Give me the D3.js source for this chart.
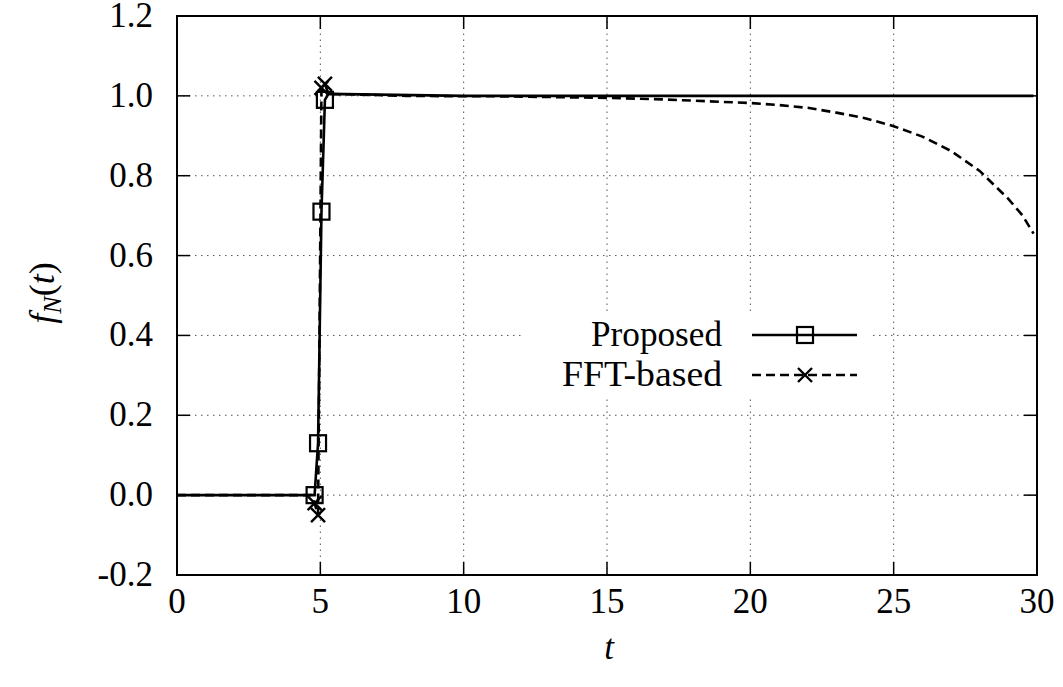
<!DOCTYPE html>
<html>
<head>
<meta charset="utf-8">
<script src="https://cdn.jsdelivr.net/npm/d3@7"></script>
<style>
  html, body { margin: 0; padding: 0; background: #fff; }
  svg { display: block; }
  text { font-family: "Liberation Serif", "DejaVu Serif", serif; fill: #000; }
</style>
</head>
<body>
<svg id="chart" width="1063" height="687"></svg>
<script>
// Step response: proposed method vs FFT-based inversion
const proposedT = [0, 4.80, 4.92, 5.04, 5.16, 5.28, 10, 20, 29.88];
const proposedV = [0, 0.00, 0.13, 0.71, 0.99, 1.005, 1.0, 1.0, 1.0];
const proposedMarks = [1, 2, 3, 4];

const fftT = [0, 4.68, 4.80, 4.92, 5.04, 5.16, 5.28, 8, 10, 11, 12, 13, 14, 15, 16, 17, 18, 19, 20,
              21, 22, 23, 24, 25, 26, 27, 28, 29, 29.5, 29.88];
const fftV = [0, 0.0, -0.02, -0.05, 1.02, 1.03, 1.005, 1.0, 0.999, 0.999, 0.998, 0.997, 0.996, 0.995,
              0.993, 0.991, 0.988, 0.985, 0.982, 0.977, 0.970, 0.958, 0.944, 0.924, 0.898, 0.862,
              0.812, 0.742, 0.700, 0.655];
const fftMarks = [2, 3, 4, 5];

const xTicks = [0, 5, 10, 15, 20, 25, 30];
const yTicks = [-0.2, 0.0, 0.2, 0.4, 0.6, 0.8, 1.0, 1.2];
const seriesNames = ["Proposed", "FFT-based"];

const svg = d3.select("#chart");
const pLeft = 177, pRight = 1037, pTop = 16, pBottom = 575;
const fs = 35;

const x = d3.scaleLinear().domain([0, 30]).range([pLeft, pRight]);
const y = d3.scaleLinear().domain([-0.2, 1.2]).range([pBottom, pTop]);

// grid
const grid = svg.append("g").attr("stroke", "#555").attr("stroke-width", 1)
  .attr("stroke-dasharray", "1.5,4.5");
xTicks.slice(1, -1).forEach(t => {
  grid.append("line").attr("x1", x(t)).attr("x2", x(t)).attr("y1", pBottom).attr("y2", pTop);
});
yTicks.slice(1, -1).forEach(v => {
  grid.append("line").attr("x1", pLeft).attr("x2", pRight).attr("y1", y(v)).attr("y2", y(v));
});

// legend background box hides the grid behind the key
svg.append("rect").attr("x", 522).attr("y", 315).attr("width", 350).attr("height", 83)
  .attr("fill", "#fff");

// ticks (inward, mirrored)
const tk = svg.append("g").attr("stroke", "#000").attr("stroke-width", 1.5);
const tl = 13;
xTicks.forEach(t => {
  tk.append("line").attr("x1", x(t)).attr("x2", x(t)).attr("y1", pBottom).attr("y2", pBottom - tl);
  tk.append("line").attr("x1", x(t)).attr("x2", x(t)).attr("y1", pTop).attr("y2", pTop + tl);
});
yTicks.forEach(v => {
  tk.append("line").attr("x1", pLeft).attr("x2", pLeft + tl).attr("y1", y(v)).attr("y2", y(v));
  tk.append("line").attr("x1", pRight).attr("x2", pRight - tl).attr("y1", y(v)).attr("y2", y(v));
});

// tick labels
const fmtY = d3.format(".1f");
svg.append("g").selectAll("text").data(xTicks).join("text")
  .attr("x", d => x(d)).attr("y", pBottom + 38)
  .attr("text-anchor", "middle").attr("font-size", fs)
  .text(d => d3.format("d")(d));
svg.append("g").selectAll("text").data(yTicks).join("text")
  .attr("x", pLeft - 24).attr("y", d => y(d) + 11)
  .attr("text-anchor", "end").attr("font-size", fs)
  .text(d => fmtY(d).replace("\u2212", "-"));

// axis titles
svg.append("text").attr("x", 609).attr("y", 659).attr("text-anchor", "middle")
  .attr("font-size", fs).attr("font-style", "italic").text("t");
const yl = svg.append("text").attr("transform", "translate(54,293) rotate(-90)")
  .attr("text-anchor", "middle").attr("font-size", 36);
yl.append("tspan").attr("font-style", "italic").text("f");
yl.append("tspan").attr("font-style", "italic").attr("font-size", 26).attr("dy", 7).text("N");
yl.append("tspan").attr("dy", -7).text("(");
yl.append("tspan").attr("font-style", "italic").text("t");
yl.append("tspan").text(")");

const line = d3.line().x(d => x(d[0])).y(d => y(d[1]));
const propData = proposedT.map((t, i) => [t, proposedV[i]]);
const fftData = fftT.map((t, i) => [t, fftV[i]]);

svg.append("defs").append("clipPath").attr("id", "plotClip")
  .append("rect").attr("x", pLeft).attr("y", pTop).attr("width", pRight - pLeft).attr("height", pBottom - pTop);
const plot = svg.append("g").attr("clip-path", "url(#plotClip)");

plot.append("path").datum(fftData).attr("d", line)
  .attr("fill", "none").attr("stroke", "#000").attr("stroke-width", 2.6)
  .attr("stroke-dasharray", "9,5");
plot.append("path").datum(propData).attr("d", line)
  .attr("fill", "none").attr("stroke", "#000").attr("stroke-width", 2.6);

function square(g, cx, cy) {
  g.append("rect").attr("x", cx - 8).attr("y", cy - 8).attr("width", 16).attr("height", 16)
    .attr("fill", "none").attr("stroke", "#000").attr("stroke-width", 2.2);
}
function cross(g, cx, cy) {
  const s = 7;
  g.append("path").attr("d", `M${cx - s},${cy - s}L${cx + s},${cy + s}M${cx - s},${cy + s}L${cx + s},${cy - s}`)
    .attr("stroke", "#000").attr("stroke-width", 2.4).attr("fill", "none");
}
proposedMarks.forEach(i => square(plot, x(proposedT[i]), y(proposedV[i])));
fftMarks.forEach(i => cross(plot, x(fftT[i]), y(fftV[i])));

// legend
const lg = svg.append("g");
const ly = [335, 375];
const labelWidths = [131, 160];
seriesNames.forEach((name, i) => {
  lg.append("text").attr("x", 722).attr("y", ly[i] + 11).attr("text-anchor", "end")
    .attr("font-size", fs).attr("textLength", labelWidths[i])
    .attr("lengthAdjust", "spacingAndGlyphs").text(name);
  lg.append("line").attr("x1", 752).attr("x2", 857).attr("y1", ly[i]).attr("y2", ly[i])
    .attr("stroke", "#000").attr("stroke-width", 2.6)
    .attr("stroke-dasharray", i === 0 ? null : "9,5");
});
square(lg, 805, ly[0]);
cross(lg, 805, ly[1]);

// frame
svg.append("rect").attr("x", pLeft).attr("y", pTop).attr("width", pRight - pLeft).attr("height", pBottom - pTop)
  .attr("fill", "none").attr("stroke", "#000").attr("stroke-width", 2);
</script>
</body>
</html>
